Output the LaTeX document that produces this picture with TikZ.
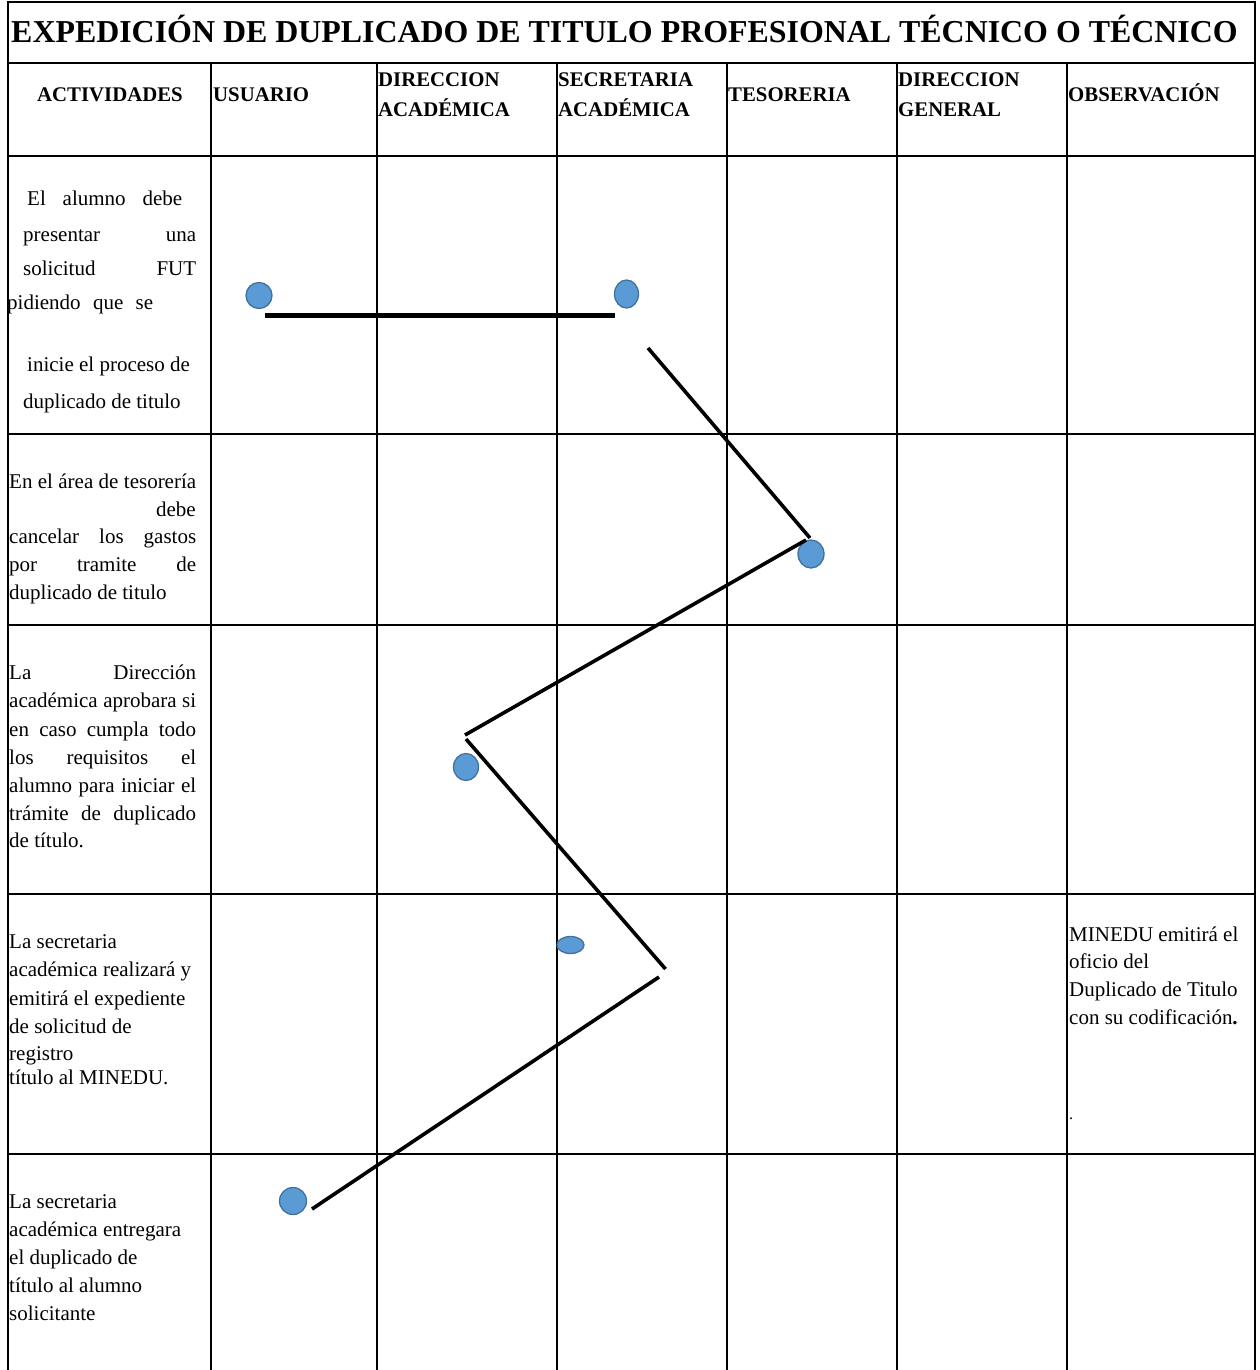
\documentclass[tikz,border=0pt]{standalone}
\usepackage{fontspec}
\setmainfont{Liberation Serif}
\usetikzlibrary{shapes.geometric}
\definecolor{dotfill}{RGB}{91,155,213}
\definecolor{dotline}{RGB}{65,113,156}
\newcommand{\jbox}[2]{\makebox[#1pt][s]{#2}}
\begin{document}
\begin{tikzpicture}[x=1pt,y=-1pt,
  gridline/.style={line width=2.5pt, black},
  txt/.style={font=\fontsize{21}{25}\selectfont, inner sep=0pt, anchor=base west},
  hdr/.style={font=\fontsize{20.8}{25}\selectfont\bfseries, inner sep=0pt, anchor=base west},
  dot/.style={ellipse, fill=dotfill, draw=dotline, line width=1.3pt, inner sep=0pt},
  flow/.style={line width=3.6pt, black},
  flowthick/.style={line width=5pt, black}]
\useasboundingbox (0,0) rectangle (1260,1370);
% table frame
\draw[gridline] (8,1370) -- (8,2) -- (1255,2) -- (1255,1370);
\foreach \yy in {63,156,434,625,894,1154} \draw[gridline] (8,\yy) -- (1255,\yy);
\foreach \xx in {211,377,557,727,897,1067} \draw[gridline] (\xx,63) -- (\xx,1370);
% title
\node[font=\fontsize{31.9}{36}\selectfont\bfseries, inner sep=0pt, anchor=base] (title) at (624.5,43) {EXPEDICIÓN DE DUPLICADO DE TITULO PROFESIONAL TÉCNICO O TÉCNICO};
% header
\node[hdr, anchor=base] (hact) at (110,102) {ACTIVIDADES};
\node[hdr] (husu) at (213,102) {USUARIO};
\node[hdr] (hdira) at (378,87) {DIRECCION};
\node[hdr] (hdirb) at (378,117) {ACADÉMICA};
\node[hdr] (hseca) at (558,87) {SECRETARIA};
\node[hdr] (hsecb) at (558,117) {ACADÉMICA};
\node[hdr] (htes) at (728,102) {TESORERIA};
\node[hdr] (hdga) at (898,87) {DIRECCION};
\node[hdr] (hdgb) at (898,117) {GENERAL};
\node[hdr] (hobs) at (1068,102) {OBSERVACIÓN};
% row 1
\node[txt] (r1a) at (27,205) {\jbox{155}{El alumno debe}};
\node[txt] (r1b) at (23,241) {\jbox{173}{presentar una}};
\node[txt] (r1c) at (23,275) {\jbox{173}{solicitud FUT}};
\node[txt] (r1d) at (7,309) {\jbox{146}{pidiendo que se}};
\node[txt] (r1e) at (27,371) {inicie el proceso de};
\node[txt] (r1f) at (23,408) {duplicado de titulo};
% row 2
\node[txt] (r2a) at (9,488) {\jbox{187}{En el área de tesorería}};
\node[txt, anchor=base east] (r2b) at (196,516) {debe};
\node[txt] (r2c) at (9,543) {\jbox{187}{cancelar los gastos}};
\node[txt] (r2d) at (9,571) {\jbox{187}{por tramite de}};
\node[txt] (r2e) at (9,599) {duplicado de titulo};
% row 3
\node[txt] (r3a) at (9,679) {\jbox{187}{La Dirección}};
\node[txt] (r3b) at (9,707) {\jbox{187}{académica aprobara si}};
\node[txt] (r3c) at (9,736) {\jbox{187}{en caso cumpla todo}};
\node[txt] (r3d) at (9,764) {\jbox{187}{los requisitos el}};
\node[txt] (r3e) at (9,792) {\jbox{187}{alumno para iniciar el}};
\node[txt] (r3f) at (9,820) {\jbox{187}{trámite de duplicado}};
\node[txt] (r3g) at (9,847) {de título.};
% row 4
\node[txt] (r4a) at (9,948) {La secretaria};
\node[txt] (r4b) at (9,976) {académica realizará y};
\node[txt] (r4c) at (9,1005) {emitirá el expediente};
\node[txt] (r4d) at (9,1033) {de solicitud de};
\node[txt] (r4e) at (9,1060) {registro};
\node[txt] (r4f) at (9,1084) {título al MINEDU.};
% observation
\node[txt] (o1) at (1069,941) {MINEDU emitirá el};
\node[txt] (o2) at (1069,968) {oficio del};
\node[txt] (o3) at (1069,996) {Duplicado de Titulo};
\node[txt] (o4) at (1069,1024) {con su codificación\textbf{.}};
\node[txt, font=\fontsize{16}{18}\selectfont] (o5) at (1069,1119) {.};
% row 5
\node[txt] (r5a) at (9,1208) {La secretaria};
\node[txt] (r5b) at (9,1236) {académica entregara};
\node[txt] (r5c) at (9,1264) {el duplicado de};
\node[txt] (r5d) at (9,1292) {título al alumno};
\node[txt] (r5e) at (9,1320) {solicitante};
% dots
\node[dot, minimum width=26pt, minimum height=26pt] (d1) at (259,295.5) {};
\node[dot, minimum width=24pt, minimum height=28pt] (d2) at (626.5,294) {};
\node[dot, minimum width=26pt, minimum height=28pt] (d3) at (811,554) {};
\node[dot, minimum width=25pt, minimum height=27pt] (d4) at (466,767) {};
\node[dot, minimum width=27pt, minimum height=17pt] (d5) at (570.5,945) {};
\node[dot, minimum width=27pt, minimum height=27pt] (d6) at (293,1201) {};
% connector end points
\coordinate (l1a) at (265,315.5);
\coordinate (l1b) at (615,315.5);
\coordinate (l2a) at (648,348);
\coordinate (l2b) at (810,538);
\coordinate (l3a) at (806,540);
\coordinate (l3b) at (465,735);
\coordinate (l4a) at (466,739);
\coordinate (l4b) at (665.5,969);
\coordinate (l5a) at (659,977);
\coordinate (l5b) at (312,1209);
\draw[flowthick] (l1a) -- (l1b);
\draw[flow] (l2a) -- (l2b);
\draw[flow] (l3a) -- (l3b);
\draw[flow] (l4a) -- (l4b);
\draw[flow] (l5a) -- (l5b);
\end{tikzpicture}
\end{document}
